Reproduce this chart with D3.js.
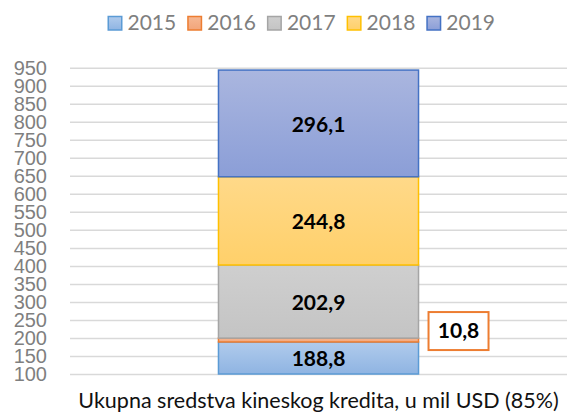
<!DOCTYPE html>
<meta charset="utf-8">
<style>
  body { margin: 0; background: #fff; }
  svg { font-family: Lato, "Open Sans", sans-serif; }
</style>
<body>
<script src="https://cdn.jsdelivr.net/npm/d3@7"></script>
<script>
  // data
  var category = "Ukupna sredstva kineskog kredita, u mil USD (85%)";
  var years = ["2015", "2016", "2017", "2018", "2019"];
  var values = [188.8, 10.8, 202.9, 244.8, 296.1];
  var labels = ["188,8", "10,8", "202,9", "244,8", "296,1"];
  var yTicks = d3.range(100, 951, 50);

  // fill top / fill bottom / border for each year
  var fillTop = ["#b0cbec", "#f6b894", "#cfcfcf", "#ffd989", "#aab6df"];
  var fillBottom = ["#8fb4e2", "#f2a57a", "#c4c4c4", "#ffd06a", "#8b9ed7"];
  var strokes = ["#5b9bd5", "#ed7d31", "#a5a5a5", "#ffc000", "#4472c4"];

  var W = 567, H = 414;
  var left = 70, right = 567;

  var svg = d3.select("body").append("svg")
    .attr("width", W)
    .attr("height", H);

  var defs = svg.append("defs");
  years.forEach(function (y, i) {
    var g = defs.append("linearGradient")
      .attr("id", "grad" + i)
      .attr("x1", 0).attr("y1", 0).attr("x2", 0).attr("y2", 1);
    g.append("stop").attr("offset", "0%").attr("stop-color", fillTop[i]);
    g.append("stop").attr("offset", "100%").attr("stop-color", fillBottom[i]);
  });

  var y = d3.scaleLinear()
    .domain([100, 950])
    .range([374, 67.7])
    .clamp(true);

  var x = d3.scaleBand()
    .domain([category])
    .range([left, right])
    .padding(0.426);

  // gridlines
  svg.append("g")
    .attr("class", "grid")
    .attr("transform", "translate(" + left + ",0)")
    .call(d3.axisLeft(y).tickValues(yTicks).tickSize(-(right - left)).tickFormat(""))
    .call(function (g) { g.select(".domain").remove(); })
    .selectAll("line")
    .attr("stroke", "#d9d9d9")
    .attr("stroke-width", 1.5);

  // y axis labels
  svg.append("g")
    .attr("transform", "translate(" + left + ",0)")
    .call(d3.axisLeft(y).tickValues(yTicks).tickSize(0).tickPadding(23))
    .call(function (g) { g.select(".domain").remove(); })
    .selectAll("text")
    .attr("fill", "#7f7f7f")
    .style("font-size", "20px");

  // stacked segments
  var stacked = [];
  var acc = 0;
  values.forEach(function (v, i) {
    stacked.push({ i: i, y0: acc, y1: acc + v, label: labels[i] });
    acc += v;
  });

  var bx = x(category), bw = x.bandwidth();

  svg.selectAll(".seg")
    .data(stacked)
    .enter()
    .append("rect")
    .attr("class", "seg")
    .attr("x", bx)
    .attr("width", bw)
    .attr("y", function (d) { return y(d.y1); })
    .attr("height", function (d) { return y(d.y0) - y(d.y1); })
    .attr("fill", function (d) { return "url(#grad" + d.i + ")"; })
    .attr("stroke", function (d) { return strokes[d.i]; })
    .attr("stroke-width", 1.5);

  // labels inside (all except the thin 2016 one)
  svg.selectAll(".lab")
    .data(stacked.filter(function (d) { return d.i !== 1; }))
    .enter()
    .append("text")
    .attr("class", "lab")
    .attr("x", bx + bw / 2)
    .attr("y", function (d) { return (y(d.y0) + y(d.y1)) / 2 + 1; })
    .attr("dy", "0.35em")
    .attr("text-anchor", "middle")
    .style("font-size", "21px")
    .style("font-weight", "bold")
    .attr("fill", "#000")
    .text(function (d) { return d.label; });

  // callout box for 2016
  var small = stacked[1];
  var box = svg.append("g")
    .attr("transform", "translate(" + (bx + bw + 10) + "," + ((y(small.y0) + y(small.y1)) / 2 - 28) + ")");
  box.append("rect")
    .attr("x", 0).attr("y", 0)
    .attr("width", 60).attr("height", 38)
    .attr("fill", "#fff")
    .attr("stroke", strokes[1])
    .attr("stroke-width", 2);
  box.append("text")
    .attr("x", 30).attr("y", 19)
    .attr("dy", "0.35em")
    .attr("text-anchor", "middle")
    .style("font-size", "21px")
    .style("font-weight", "bold")
    .text(small.label);

  // category label
  svg.append("text")
    .attr("x", bx + bw / 2)
    .attr("y", 408)
    .attr("text-anchor", "middle")
    .style("font-size", "21.5px")
    .attr("fill", "#111")
    .text(category);

  // legend
  var legend = svg.append("g").attr("transform", "translate(107.5,0)");
  var items = legend.selectAll(".item")
    .data(years)
    .enter()
    .append("g")
    .attr("transform", function (d, i) { return "translate(" + (i * 79.7) + ",0)"; });
  items.append("rect")
    .attr("x", 0.75).attr("y", 16.5)
    .attr("width", 13.5).attr("height", 13.5)
    .attr("fill", function (d, i) { return "url(#grad" + i + ")"; })
    .attr("stroke", function (d, i) { return strokes[i]; })
    .attr("stroke-width", 1.5);
  items.append("text")
    .attr("x", 20)
    .attr("y", 23)
    .attr("dy", "0.35em")
    .attr("fill", "#7f7f7f")
    .style("font-size", "21px")
    .text(function (d) { return d; });
</script>
</body>
